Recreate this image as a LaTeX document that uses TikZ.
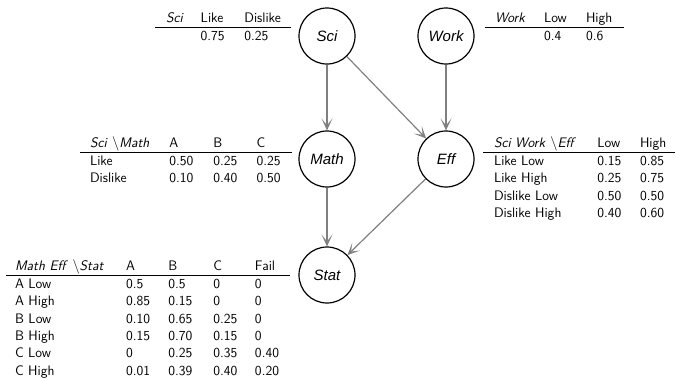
\documentclass[tikz,border=0pt]{standalone}
\usepackage{fontspec}
\usepackage{array}
\newfontfamily\nodefont{Liberation Sans}
\usetikzlibrary{arrows.meta}
\newcolumntype{L}[1]{>{\raggedright\arraybackslash}p{#1}}
\setlength{\arrayrulewidth}{0.8pt}
\tikzset{
  var/.style={circle, draw=black, line width=1.2pt, minimum size=56pt, inner sep=0pt,
    font=\nodefont\itshape\fontsize{15}{18}\selectfont},
  tbl/.style={anchor=base west, inner sep=0pt, outer sep=0pt,
    font=\sffamily\fontsize{13.8}{17.4}\selectfont},
  dep/.style={draw=black!50, line width=1.2pt,
    -{Stealth[length=12pt,width=11pt,inset=7pt]}}
}
\begin{document}
\begin{tikzpicture}[x=1pt,y=-1pt]
\useasboundingbox (0,0) rectangle (676,378);
% variables
\node[var] (sci)  at (327,36)  {Sci};
\node[var] (work) at (446,36)  {Work};
\node[var] (math) at (327,159) {Math};
\node[var] (eff)  at (446,159) {Eff};
\node[var] (stat) at (327,275) {Stat};
% dependencies
\draw[dep] (sci) -- (math);
\draw[dep] (sci) -- (eff);
\draw[dep] (work) -- (eff);
\draw[dep] (math) -- (stat);
\draw[dep] (eff) -- (stat);
% tables
\node[tbl] (scitab) at (155,22) {\begin{tabular}[t]{@{\hspace{11pt}}L{34.7pt}@{}L{43.6pt}@{}L{46.4pt}@{}}
\textit{Sci} & Like & Dislike\\ \hline
 & 0.75 & 0.25
\end{tabular}};
\node[tbl] (worktab) at (485,22) {\begin{tabular}[t]{@{\hspace{10pt}}L{49pt}@{}L{42pt}@{}L{38pt}@{}}
\textit{Work} & Low & High\\ \hline
 & 0.4 & 0.6
\end{tabular}};
\node[tbl] (mathtab) at (80,147) {\begin{tabular}[t]{@{\hspace{10pt}}L{79.3pt}@{}L{44pt}@{}L{43.4pt}@{}L{35pt}@{}}
\textit{Sci} $\backslash$\textit{Math} & A & B & C\\ \hline
Like & 0.50 & 0.25 & 0.25\\
Dislike & 0.10 & 0.40 & 0.50
\end{tabular}};
\node[tbl] (efftab) at (483.3,147) {\begin{tabular}[t]{@{\hspace{10.7pt}}L{103.3pt}@{}L{42.7pt}@{}L{35pt}@{}}
\textit{Sci Work} $\backslash$\textit{Eff} & Low & High\\ \hline
Like Low & 0.15 & 0.85\\
Like High & 0.25 & 0.75\\
Dislike Low & 0.50 & 0.50\\
Dislike High & 0.40 & 0.60
\end{tabular}};
\node[tbl] (stattab) at (6,270) {\begin{tabular}[t]{@{\hspace{9pt}}L{111pt}@{}L{42.3pt}@{}L{45pt}@{}L{41.7pt}@{}L{35pt}@{}}
\textit{Math Eff} $\backslash$\textit{Stat} & A & B & C & Fail\\ \hline
A Low & 0.5 & 0.5 & 0 & 0\\
A High & 0.85 & 0.15 & 0 & 0\\
B Low & 0.10 & 0.65 & 0.25 & 0\\
B High & 0.15 & 0.70 & 0.15 & 0\\
C Low & 0 & 0.25 & 0.35 & 0.40\\
C High & 0.01 & 0.39 & 0.40 & 0.20
\end{tabular}};
\end{tikzpicture}
\end{document}
